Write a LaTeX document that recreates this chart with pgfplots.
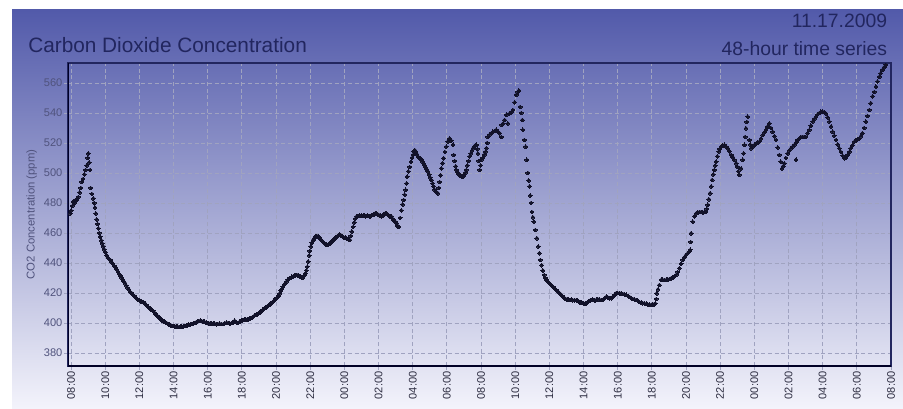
\documentclass[border=0pt]{standalone}
\usepackage{fontspec}
\setmainfont{Liberation Sans}
\usepackage{pgfplots}
\pgfplotsset{compat=1.18}
\definecolor{bgtop}{RGB}{82,90,170}
\definecolor{bgmid}{RGB}{125,132,200}
\definecolor{bgbot}{RGB}{243,243,251}
\definecolor{titlecol}{RGB}{34,38,95}
\definecolor{dotcol}{RGB}{18,18,42}
\definecolor{gridcol}{RGB}{160,163,192}
\definecolor{ytickcol}{RGB}{80,83,125}
\definecolor{xtickcol}{RGB}{45,45,65}
\begin{document}
\begin{tikzpicture}
\useasboundingbox (0,0) rectangle (677.25pt,306pt);
\shade[top color=bgtop, middle color=bgmid, bottom color=bgbot] (9pt,0) rectangle (677.25pt,298.5pt);
\node[anchor=base west, text=titlecol, font=\fontsize{15.6}{18}\selectfont, inner sep=0pt] at (21pt,266.5pt) {Carbon Dioxide Concentration};
\node[anchor=base east, text=titlecol, font=\fontsize{14.5}{18}\selectfont, inner sep=0pt] at (665.5pt,285pt) {11.17.2009};
\node[anchor=base east, text=titlecol, font=\fontsize{14.5}{18}\selectfont, inner sep=0pt] at (665.5pt,264pt) {48-hour time series};
\begin{axis}[
  at={(51pt,31.5pt)}, anchor=south west,
  scale only axis, width=617.25pt, height=227.25pt,
  xmin=-0.18, xmax=48, ymin=371.3, ymax=573.3,
  xtick={0,2,...,48},
  xticklabels={08:00,10:00,12:00,14:00,16:00,18:00,20:00,22:00,00:00,02:00,04:00,06:00,08:00,10:00,12:00,14:00,16:00,18:00,20:00,22:00,00:00,02:00,04:00,06:00,08:00},
  ytick={380,400,...,560},
  /pgf/number format/assume math mode=true,
  xticklabel style={rotate=90, anchor=east, font=\fontsize{8.3}{9}\selectfont, text=xtickcol, inner sep=1pt},
  yticklabel style={font=\fontsize{8.3}{9}\selectfont, text=ytickcol, inner sep=1pt},
  ylabel={CO2 Concentration (ppm)},
  ylabel style={font=\fontsize{8.5}{9}\selectfont, text=ytickcol, anchor=center},
  every axis y label/.append style={at={(-0.044,0.5)}},
  tick align=outside, major tick length=3pt,
  xtick pos=bottom, ytick pos=left,
  tick style={color=gridcol, line width=0.6pt},
  grid=major,
  major grid style={color=gridcol, line width=0.6pt, dash pattern=on 3pt off 2pt},
  axis line style={color=titlecol, line width=0.8pt},
]
\addplot[only marks, mark=*, mark size=1.45pt, mark options={fill=dotcol, draw=dotcol, line width=0pt}] table {
x y
-0.05 473
0.0 475
0.07 478
0.13 481
0.2 480
0.27 482
0.33 482
0.42 484
0.5 487
0.57 490
0.63 494
0.7 496
0.78 499
0.85 502
0.92 505
0.98 510
1.01 513
1.06 507
1.11 502
1.15 490
1.22 486
1.30 483
1.35 480
1.40 477
1.45 473
1.50 469
1.55 466
1.60 463
1.65 460
1.70 457.5
1.77 455
1.83 453
1.89 451
1.95 449
2.02 447
2.09 445
2.16 443.5
2.23 442.5
2.3 442
2.38 440.5
2.45 439.5
2.52 438
2.6 437
2.68 435.5
2.75 434
2.82 432.5
2.9 431.5
2.97 430
3.04 428.5
3.1 427.5
3.16 426.5
3.23 425
3.3 423.5
3.37 422.5
3.45 421
3.55 420
3.62 419
3.7 418
3.78 417
3.86 416
3.94 415.3
4.02 415
4.1 414.5
4.18 414
4.26 413.5
4.33 413
4.4 412
4.48 411
4.56 410
4.64 409.5
4.72 408.7
4.8 408
4.88 407
4.96 406
5.04 405
5.12 404
5.2 403
5.28 402.5
5.36 401.5
5.44 401
5.52 400.5
5.6 400
5.68 399.3
5.76 398.7
5.84 398.3
5.92 398
6.0 398
6.08 397.8
6.16 397.5
6.24 397.5
6.32 397.3
6.4 397.5
6.48 397.5
6.57 397.8
6.65 398
6.73 398.3
6.81 398.5
6.9 398.8
6.98 399
7.07 399.3
7.15 399.5
7.23 400
7.32 400.5
7.4 401
7.48 401.3
7.57 401.5
7.65 401.3
7.74 401
7.82 400.7
7.9 400.3
7.98 400
8.07 399.8
8.15 399.6
8.24 399.5
8.32 399.8
8.4 399.5
8.5 399.2
8.6 399.3
8.7 399.5
8.8 399.3
8.91 399.3
9.0 399.8
9.1 400.2
9.2 400
9.3 399.5
9.4 400
9.49 400.3
9.58 401.5
9.67 400.5
9.76 400
9.86 400.8
9.98 401.5
10.06 402
10.14 402.3
10.22 402.5
10.3 402.3
10.39 402.5
10.47 402.8
10.55 403.3
10.63 404
10.72 404.8
10.8 405.3
10.88 405.8
10.97 406.3
11.05 407
11.13 408
11.21 408.7
11.3 409.5
11.39 410.3
11.47 411
11.56 411.7
11.64 412.3
11.72 413.2
11.8 414
11.88 415
11.96 416
12.04 416.8
12.12 417.5
12.2 419.5
12.27 421.5
12.32 422.5
12.4 424
12.47 425.5
12.54 426.5
12.61 427.5
12.69 428.8
12.77 429.5
12.85 430
12.93 430.7
13.0 431
13.08 431.5
13.15 432
13.22 432
13.29 431.8
13.36 431.2
13.43 430.8
13.5 430.3
13.58 430.5
13.65 431.5
13.71 433
13.78 435
13.83 437.5
13.88 441
13.94 445
13.98 448
14.04 451
14.1 453.5
14.17 455.3
14.24 456.5
14.32 457.5
14.39 458
14.46 457.5
14.53 456.8
14.6 455.8
14.68 454.8
14.75 454
14.82 453.3
14.9 452.5
14.97 452.3
15.05 452.2
15.12 452.8
15.19 453.5
15.27 454.5
15.34 455.3
15.42 456.2
15.5 457
15.58 457.8
15.65 458.3
15.73 458.7
15.8 458.5
15.88 457.7
15.96 457
16.04 456.7
16.12 456.5
16.2 456
16.27 455.5
16.32 455.3
16.38 458
16.44 461
16.51 464
16.58 467
16.64 469.5
16.71 471
16.79 471.3
16.86 471.5
16.94 471.3
17.01 471.5
17.09 471.5
17.17 471.5
17.25 471.2
17.33 471.5
17.41 471.3
17.49 471
17.57 471.5
17.65 472
17.73 472.5
17.8 473
17.88 473
17.95 472.5
18.02 472
18.1 471.5
18.17 471
18.24 471.5
18.31 472.5
18.38 473
18.46 473
18.53 472.3
18.6 471.5
18.68 471
18.75 471
18.83 469.5
18.9 468.5
18.98 467.5
19.05 466.5
19.1 465
19.18 464
19.26 470
19.34 475
19.41 479
19.47 482
19.53 485.5
19.59 488.7
19.64 493
19.67 497.5
19.75 501
19.82 504
19.9 507.5
19.96 510
20.02 512
20.07 514
20.12 515.3
20.18 514.3
20.24 512.5
20.31 511
20.38 510
20.44 509.5
20.51 508.7
20.57 507.5
20.63 506.3
20.7 505
20.76 503.5
20.83 502.3
20.89 501
20.96 499
21.02 497
21.09 495.3
21.16 493
21.22 491
21.29 488.7
21.35 487.5
21.42 487
21.48 486.5
21.53 490
21.58 494
21.63 498.5
21.68 503
21.75 506.5
21.81 509.8
21.89 514
21.97 517.5
22.06 521
22.16 523
22.26 521.5
22.36 518.7
22.4 512
22.46 508
22.52 504.5
22.56 502
22.62 500.5
22.68 499.5
22.75 498.7
22.81 498
22.88 497.5
22.94 497.5
23.0 498.5
23.07 500
23.14 502
23.2 505
23.27 508
23.33 511
23.4 513
23.47 515
23.53 516.5
23.6 517.5
23.67 518.5
23.73 518.7
23.78 516
23.82 513
23.87 508
23.92 502
23.97 505
24.02 508.7
24.1 510
24.18 512
24.25 514
24.31 516.5
24.36 520
24.4 524
24.5 525.5
24.6 526.5
24.7 527.5
24.8 528
24.89 528.7
24.99 527.5
25.09 526.5
25.19 524
25.22 532
25.29 533
25.38 535.3
25.48 538.7
25.57 533
25.67 539.7
25.77 540.5
25.87 542
25.96 547
26.06 552
26.15 554
26.22 555
26.29 544
26.36 540
26.42 535.3
26.45 528.7
26.54 522
26.61 517.5
26.68 508.7
26.74 500
26.79 495
26.84 491
26.88 485
26.93 480
26.98 474
27.04 470.5
27.09 467.5
27.18 462
27.27 456.5
27.35 451
27.41 446.5
27.47 442
27.55 438.5
27.62 435
27.7 432
27.76 430
27.82 428.7
27.9 427.5
27.97 426.8
28.04 426
28.11 425.3
28.18 424.5
28.26 423.5
28.33 422.8
28.4 422
28.47 421.3
28.53 420.5
28.6 419.8
28.67 419
28.75 418
28.82 417.3
28.89 416.5
28.96 416
29.04 415.8
29.11 415.5
29.18 415.3
29.27 415.5
29.37 415.2
29.47 415
29.57 415.3
29.65 414.8
29.72 414.3
29.8 413.8
29.87 413.5
29.94 413.3
30.01 413
30.09 413
30.16 413
30.23 413.8
30.3 414.5
30.38 415
30.45 415.3
30.55 415.5
30.65 415
30.75 415.5
30.84 415.8
30.94 415.5
31.04 415.3
31.13 415.3
31.23 416.5
31.33 417.5
31.43 417
31.52 416.3
31.62 416.5
31.72 417.5
31.81 418.8
31.91 419.8
32.0 420
32.1 419.8
32.2 419.8
32.3 419.3
32.4 419
32.5 418.7
32.6 418
32.7 417.3
32.79 416.5
32.89 416
32.98 415.7
33.08 415.3
33.18 414.8
33.27 414
33.37 413.5
33.47 413.2
33.57 413
33.67 412.7
33.76 412.5
33.86 412.2
33.96 412
34.06 412.3
34.13 412.5
34.21 413
34.26 416
34.29 419.8
34.36 422.5
34.44 425.3
34.54 428.7
34.64 428.8
34.74 428.6
34.84 428.7
34.94 429
35.03 429.3
35.13 429.8
35.23 430.3
35.32 431
35.42 432
35.51 434
35.61 436.5
35.71 439.5
35.81 442
35.9 443.8
36.0 445.3
36.1 446.5
36.18 447.5
36.24 448.7
36.27 454
36.3 459.8
36.39 467.5
36.49 471
36.59 473
36.69 473.5
36.78 474
36.88 474
36.98 473.5
37.07 474
37.17 474
37.22 476
37.27 478.7
37.34 482.5
37.41 486.5
37.47 491
37.53 495.3
37.6 499
37.66 502
37.71 505
37.76 507.5
37.84 511
37.91 514.2
37.98 516
38.05 517.5
38.15 518.3
38.25 518.7
38.35 517.5
38.44 516.5
38.54 514.5
38.64 512
38.74 510.5
38.83 508.7
38.93 506.5
39.02 504
39.07 501
39.12 498.7
39.22 503
39.32 508.7
39.37 513
39.42 518.7
39.46 524
39.51 529.8
39.56 534
39.61 537.5
39.71 522
39.76 519
39.81 516.5
39.9 517.5
40.0 518.7
40.1 519.5
40.2 520.3
40.29 520.8
40.39 523
40.49 525.3
40.58 527
40.68 528.7
40.78 531
40.88 533
40.97 530
41.07 527.5
41.17 524.5
41.27 522
41.37 517
41.46 512
41.54 507.5
41.62 503
41.69 504.5
41.75 506.5
41.85 510
41.95 513
42.05 515
42.15 516.5
42.24 517.5
42.34 518.7
42.44 508.7
42.47 520.5
42.53 522
42.63 523
42.73 524
42.83 524
42.92 524
43.02 524
43.12 526.5
43.22 528.7
43.31 531.5
43.41 534.2
43.51 536
43.61 537.5
43.7 539
43.8 540
43.9 540.8
44.0 540.8
44.1 540.5
44.19 539.7
44.29 537
44.39 534.2
44.49 531
44.58 527.5
44.68 524.8
44.78 522
44.88 519
44.97 516.5
45.07 514
45.17 511.5
45.26 509.8
45.36 510.5
45.46 512
45.56 514
45.65 516.5
45.75 518.5
45.85 520.8
45.95 521.8
46.04 522.5
46.14 523
46.24 524.5
46.33 526.5
46.43 530
46.53 534.2
46.63 538
46.73 542
46.82 546.5
46.92 551
47.02 554
47.12 557.5
47.21 561
47.31 564
47.4 566.5
47.5 568.7
47.6 570.5
47.7 572
};
\draw[color=black!85!blue, line width=1.6pt] (rel axis cs:0,1) -- (rel axis cs:0,0) -- (rel axis cs:1,0);
\end{axis}
\end{tikzpicture}
\end{document}
